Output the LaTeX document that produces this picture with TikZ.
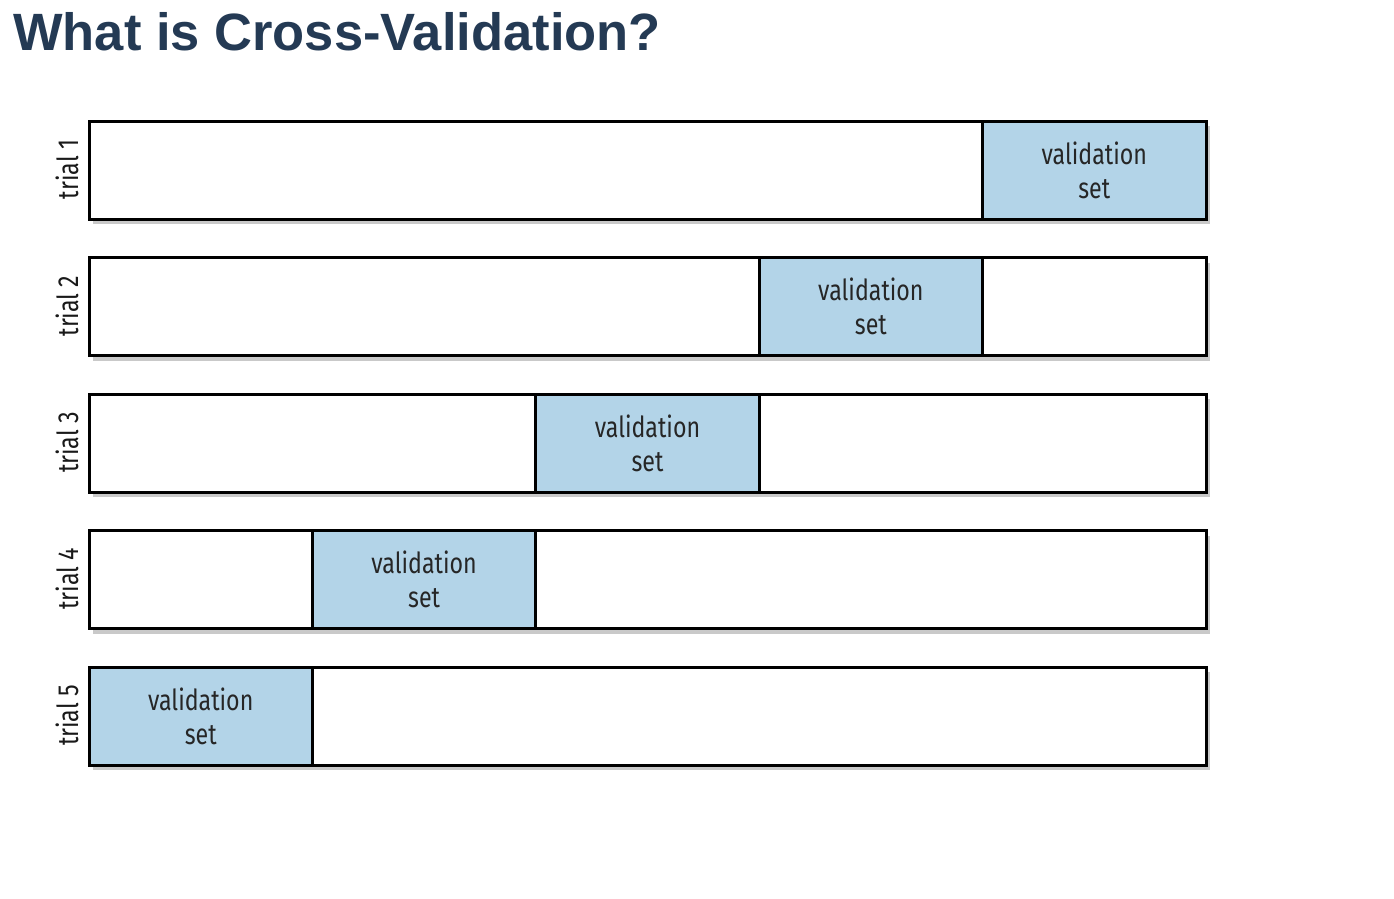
\documentclass[tikz,border=0pt]{standalone}
\usepackage{fontspec}
\setmainfont{Liberation Sans}
\newfontfamily\cond[FakeStretch=0.8]{Fira Sans}
\usetikzlibrary{shadows}
\definecolor{titleblue}{HTML}{243A54}
\definecolor{valblue}{HTML}{B3D4E8}
\tikzset{
  bar/.style={draw=black, line width=3pt, fill=white, minimum width=1117pt, minimum height=98pt, inner sep=0pt, anchor=north west,
    drop shadow={shadow xshift=4pt, shadow yshift=-5pt, opacity=0.3, fill=black!70}},
  val/.style={draw=black, line width=3pt, fill=valblue, minimum width=223.4pt, minimum height=98pt, inner sep=0pt, anchor=north west,
    align=center, font=\cond\fontsize{29}{34}\selectfont, text=black!85},
  trial/.style={rotate=90, font=\cond\fontsize{29}{32}\selectfont, text=black!90, inner sep=0pt},
  title/.style={font=\bfseries\fontsize{52.5}{58}\selectfont, text=titleblue, anchor=base west, inner sep=0pt}
}
\begin{document}
\begin{tikzpicture}[x=1pt,y=-1pt]
\useasboundingbox (0,0) rectangle (1394,898);
\node[title] (t) at (13,50) {What is Cross-Validation?};
\foreach \i/\k in {1/4,2/3,3/2,4/1,5/0}{
  \pgfmathsetmacro{\ytop}{119.5+(\i-1)*136.5}
  \node[bar] (b\i) at (87.5,\ytop) {};
  \node[val] (v\i) at ({87.5+\k*223.4},\ytop) {validation\\set};
  \node[trial] (l\i) at (67,{\ytop+50}) {trial \i};
}
\end{tikzpicture}
\end{document}
